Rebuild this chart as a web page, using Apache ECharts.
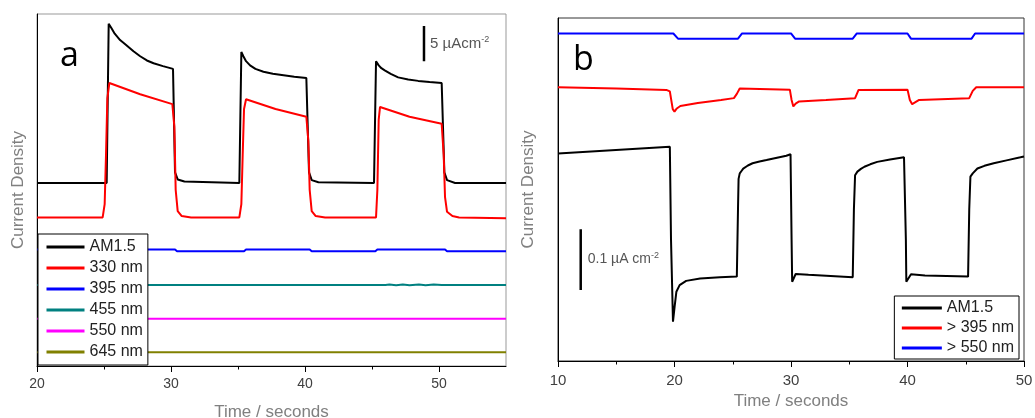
<!DOCTYPE html>
<html>
<head>
<meta charset="utf-8">
<script src="https://cdn.jsdelivr.net/npm/echarts@6/dist/echarts.min.js"></script>
<style>
  html, body { margin: 0; padding: 0; background: #fff; }
  #chart { width: 1035px; height: 418px; }
</style>
</head>
<body>
<div id="chart"></div>
<script>
// panel a: photocurrent (uA cm-2, arbitrary offset) vs time (s)
const am15A = [[20,26.0],[25.2,26.0],[25.35,48.6],[25.55,48.0],[25.8,47.2],[26.2,46.3],[26.65,45.6],[27.2,44.7],
  [27.7,44.0],[28.2,43.4],[28.7,43.0],[29.4,42.6],[30.15,42.2],[30.3,27.5],[30.5,26.5],[31,26.2],[35.1,26.0],
  [35.25,44.6],[35.4,44.0],[35.6,43.3],[35.9,42.7],[36.3,42.2],[36.9,41.8],[37.6,41.5],[38.4,41.3],[39.2,41.1],[40.1,40.9],
  [40.3,27.5],[40.5,26.4],[41,26.1],[45.15,26.0],[45.3,43.3],[45.5,42.7],[45.7,42.3],[45.95,42.0],[46.4,41.5],[46.95,41.0],
  [47.7,40.7],[48.45,40.5],[49.3,40.35],[50.2,40.2],[50.4,27.5],[50.6,26.4],[51.2,26.0],[55,26.0]];
const nm330 = [[20,21.1],[24.9,21.1],[25.05,23],[25.15,30],[25.25,38],[25.4,40.2],[27.7,38.6],[30.1,37.2],[30.25,34],[30.35,25],
  [30.5,22],[30.8,21.3],[31.5,21.1],[35.1,21.1],[35.25,23],[35.35,30],[35.45,36.5],[35.6,37.9],[37.8,36.5],[40.1,35.4],[40.25,32],
  [40.35,25],[40.5,22],[40.8,21.3],[41.5,21.1],[45.3,21.1],[45.4,25],[45.5,35],[45.6,36.8],[47.8,35.4],[50.2,34.4],[50.35,30],
  [50.45,24],[50.6,21.9],[51,21.3],[51.5,21.1],[55,21.0]];
const nm395 = [[20,16.55],[30.3,16.55],[30.45,16.3],[35.45,16.3],[35.6,16.55],[40.35,16.55],[40.5,16.3],[45.25,16.3],
  [45.4,16.55],[50.45,16.55],[50.6,16.3],[55,16.3]];
const nm455 = [[20,11.5],[46,11.5],[46.3,11.56],[46.8,11.46],[47.3,11.56],[47.8,11.46],[48.5,11.56],[49,11.46],[49.6,11.56],
  [50.2,11.5],[55,11.5]];
const nm550 = [[20,6.7],[55,6.7]];
const nm645 = [[20,1.95],[55,1.95]];
const scaleA = [[48.88,43.3],[48.88,48.3],[48.88,45.8]];

// panel b: photocurrent (nA, arbitrary offset) vs time (s)
const am15B = [[10,342],[19.6,353],[19.7,200],[19.87,64.8],[20.01,89.5],[20.16,114],[20.44,125],[21.0,132],[22.2,136],
  [23.9,138],[25.35,139],[25.45,250],[25.5,300],[25.6,309],[25.75,313],[25.9,317],[26.3,322],[26.7,325.7],[27.3,328.5],
  [27.9,331],[28.7,334.5],[29.6,338],[29.96,340.5],[30.05,200],[30.1,130.6],[30.4,143.3],[31.5,142],[35.3,138],
  [35.4,250],[35.5,306],[35.7,312],[36.0,316.5],[36.3,320],[36.8,324],[37.4,328],[38.5,332],[39.7,335.5],[39.86,200],
  [39.9,130.6],[40.3,143],[41.5,141],[45.2,139],[45.3,250],[45.4,303.6],[45.6,309],[46.0,317],[46.6,321.5],[47.4,325.7],
  [48.5,330.5],[49.7,335.5],[50,337]];
const gt395 = [[10,451],[15,449],[19.3,446.5],[19.6,444],[19.85,415],[20.0,410.8],[20.2,416],[20.5,420],[22,425],
  [24,430],[25.1,433],[25.35,440],[25.6,449],[29.9,447],[30.05,430],[30.2,419.4],[30.4,424],[30.7,427.6],[33,430],
  [35.5,433],[35.8,446.5],[40.0,447],[40.2,430],[40.4,423],[41,430],[45.3,433],[45.6,445],[45.9,451],[50,451]];
const gt550 = [[10,539.5],[19.9,539.5],[20.3,531],[25.45,531],[25.8,539.5],[30.0,539.5],[30.35,531],[35.3,531],
  [35.65,539.5],[40.0,539.5],[40.3,531],[45.5,531],[45.8,539.5],[50,539.5]];
const scaleB = [[11.95,117],[11.95,217],[11.95,167]];

const majorA = [20, 30, 40, 50];
const minorA = [25, 35, 45];
const majorB = [10, 20, 30, 40, 50];
const minorB = [15, 25, 35, 45];
const legendA = ['AM1.5', '330 nm', '395 nm', '455 nm', '550 nm', '645 nm'];
const legendB = ['AM1.5', '> 395 nm', '> 550 nm'];

const FONT = 'Liberation Sans, Arial, sans-serif';

function line(name, data, color, xi, yi) {
  return {
    type: 'line', name, data, xAxisIndex: xi, yAxisIndex: yi,
    symbol: 'none', lineStyle: { color, width: 2 }, itemStyle: { color },
    animation: false
  };
}

function scaleBar(data, xi, yi, text, size, dist) {
  return {
    type: 'line', data, xAxisIndex: xi, yAxisIndex: yi, symbol: 'none', silent: true,
    lineStyle: { color: '#000', width: 2.5 }, animation: false, z: 5,
    endLabel: {
      show: true, distance: dist, formatter: text,
      rich: {
        t: { fontFamily: FONT, fontSize: size, color: '#555', lineHeight: 18 },
        s: { fontFamily: FONT, fontSize: 9, color: '#555', verticalAlign: 'top', lineHeight: 18 }
      }
    }
  };
}

function xAxes(grid, min, max, major, minor, labelSize, margin, gap) {
  return [{
    type: 'value', gridIndex: grid, min, max, interval: 5, position: 'bottom',
    name: 'Time / seconds', nameLocation: 'middle', nameGap: gap,
    nameTextStyle: { fontFamily: FONT, fontSize: 17, color: '#808080' },
    axisLine: { lineStyle: { color: '#000', width: 1 } },
    axisTick: { customValues: major, length: 6, lineStyle: { color: '#000' } },
    axisLabel: { customValues: major, fontFamily: FONT, fontSize: labelSize, color: '#404040', margin },
    splitLine: { show: false }
  }, {
    type: 'value', gridIndex: grid, min, max, interval: 5, position: 'bottom',
    axisLine: { show: false },
    axisTick: { customValues: minor, length: 3.5, lineStyle: { color: '#000' } },
    axisLabel: { show: false }, splitLine: { show: false }
  }];
}

function yAxis(grid, max, gap) {
  return {
    type: 'value', gridIndex: grid, min: 0, max, position: 'left',
    name: 'Current Density', nameLocation: 'middle', nameGap: gap,
    nameTextStyle: { fontFamily: FONT, fontSize: 17, color: '#808080' },
    axisLine: { show: true, lineStyle: { color: '#000', width: 1 } },
    axisTick: { show: false }, axisLabel: { show: false }, splitLine: { show: false }
  };
}

const legendStyle = {
  orient: 'vertical', itemWidth: 38, itemHeight: 14,
  backgroundColor: '#fff', borderColor: '#000', borderWidth: 1, borderRadius: 0,
  itemStyle: { opacity: 0 }, lineStyle: { width: 3 },
  textStyle: { fontFamily: FONT, fontSize: 16, color: '#222' }, selectedMode: false
};

const axA = xAxes(0, 20, 55, majorA, minorA, 14, 11, 38);
const axB = xAxes(1, 10, 50, majorB, minorB, 15, 12, 27);

const option = {
  backgroundColor: '#fff',
  animation: false,
  title: [
    { text: 'a', left: 60, top: 39, padding: 0, textStyle: { fontFamily: 'Open Sans', fontSize: 34, fontWeight: 'normal', color: '#000' } },
    { text: 'b', left: 573, top: 43, padding: 0, textStyle: { fontFamily: 'Open Sans', fontSize: 34, fontWeight: 'normal', color: '#000' } }
  ],
  grid: [
    { left: 37, top: 14, width: 469, height: 352, outerBoundsMode: 'none', show: true, borderColor: '#999', borderWidth: 1, backgroundColor: 'transparent' },
    { left: 558, top: 18, width: 466, height: 343, outerBoundsMode: 'none', show: true, borderColor: '#333', borderWidth: 1, backgroundColor: 'transparent' }
  ],
  // x axes 0/1 -> panel a (major/minor ticks), 2/3 -> panel b
  xAxis: [axA[0], axA[1], axB[0], axB[1]],
  yAxis: [yAxis(0, 50, 10), yAxis(1, 565, 21)],
  legend: [
    Object.assign({}, legendStyle, { data: legendA, left: 38, top: 234, itemGap: 5, padding: [5, 5, 5, 7] }),
    Object.assign({}, legendStyle, { data: legendB, itemWidth: 40, right: 16, top: 296, itemGap: 4, padding: [4, 5, 3, 6] })
  ],
  series: [
    line('AM1.5', am15A, '#000000', 0, 0),
    line('330 nm', nm330, '#ff0000', 0, 0),
    line('395 nm', nm395, '#0000ff', 0, 0),
    line('455 nm', nm455, '#008080', 0, 0),
    line('550 nm', nm550, '#ff00ff', 0, 0),
    line('645 nm', nm645, '#808000', 0, 0),
    scaleBar(scaleA, 0, 0, '{t|5 µAcm}{s|-2}', 15, 6),
    line('AM1.5', am15B, '#000000', 2, 1),
    line('> 395 nm', gt395, '#ff0000', 2, 1),
    line('> 550 nm', gt550, '#0000ff', 2, 1),
    scaleBar(scaleB, 2, 1, '{t|0.1 µA cm}{s|-2}', 14, 7)
  ]
};

const chart = echarts.init(document.getElementById('chart'), null, { renderer: 'canvas' });
chart.setOption(option);
</script>
</body>
</html>
